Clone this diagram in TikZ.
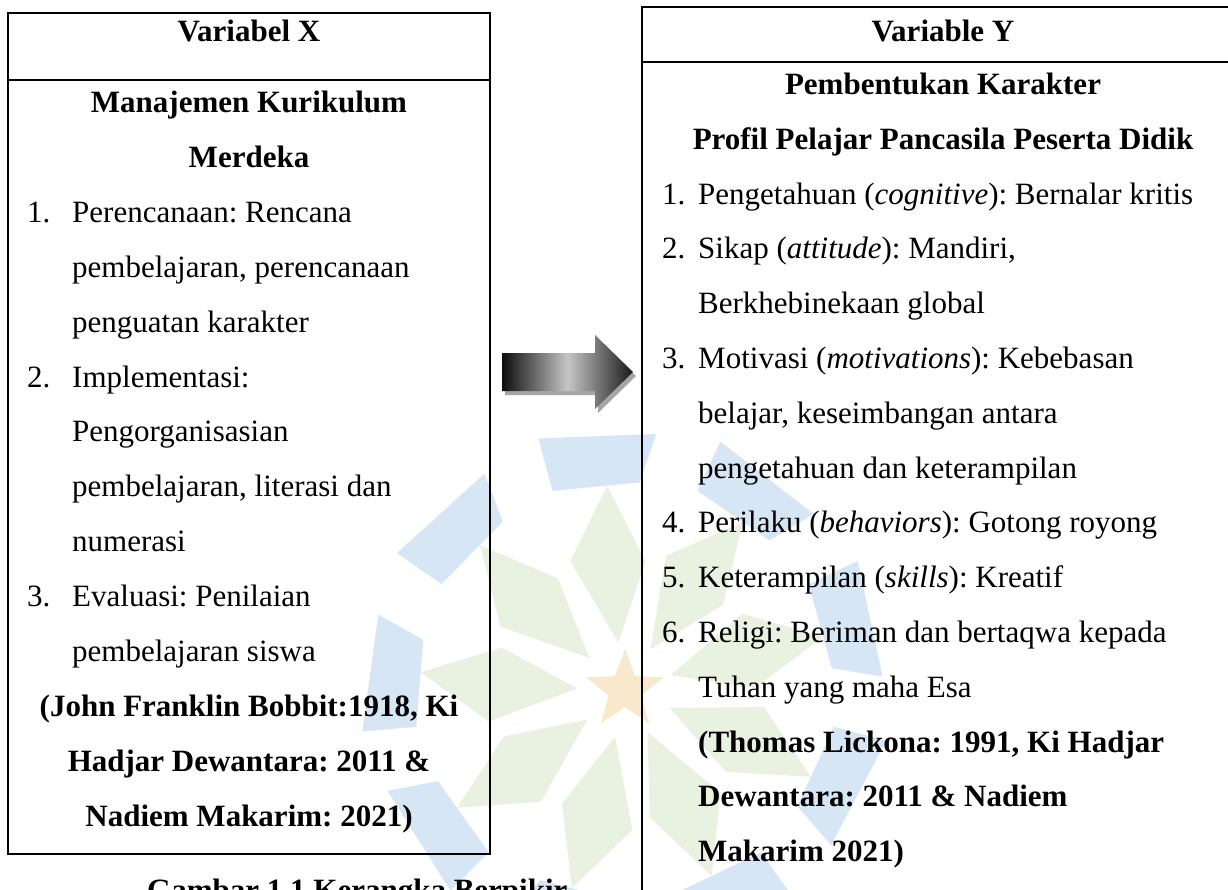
\documentclass[tikz,border=0pt]{standalone}
\usepackage{fontspec}
\setmainfont{Liberation Serif}
\frenchspacing
\usetikzlibrary{calc,shapes.geometric}
\definecolor{wmblue}{RGB}{214,230,245}
\definecolor{wmgreen}{RGB}{233,241,224}
\definecolor{wmstar}{RGB}{248,233,205}
\begin{document}
\begin{tikzpicture}[x=1pt,y=-1pt,
  tx/.style={inner sep=0pt, anchor=base west, font=\fontsize{31}{31}\selectfont},
  bx/.style={inner sep=0pt, anchor=base, font=\fontsize{31}{31}\selectfont\bfseries},
  bxl/.style={inner sep=0pt, anchor=base west, font=\fontsize{31}{31}\selectfont\bfseries},
  frame/.style={line width=1.6pt}]
\useasboundingbox (0,0) rectangle (1228,889);
\clip (0,0) rectangle (1228,889);
\fill[white] (0,0) rectangle (1228,889);

% watermark logo
\coordinate (wm) at (625,690);
\foreach \a in {-98,-58,...,222} {
  \fill[wmgreen] ($(wm)+(\a:48)$) -- ($(wm)+(\a-15:140)$) -- ($(wm)+(\a+3:205)$) -- ($(wm)+(\a+17:130)$) -- cycle;
  \fill[wmblue] ($(wm)+(\a-12:212)$) -- ($(wm)+(\a+12:208)$) -- ($(wm)+(\a+15:258)$) -- ($(wm)+(\a-11:266)$) -- cycle;
}
\node[star, star points=5, star point ratio=2.4, fill=wmstar, minimum size=82pt, inner sep=0pt] (wmstarnode) at (wm) {};

% boxes
\draw[frame] (8,13) rectangle (490,854);
\draw[frame] (8,80) -- (490,80);
\draw[frame] (642,7) rectangle (1244,900);
\draw[frame] (642,62) -- (1244,62);

% arrow
\fill[gray!70, shift={(3,4)}] (502,353) -- (595,353) -- (595,335) -- (633,372) -- (595,409) -- (595,391) -- (502,391) -- cycle;
\shade[left color=black!95, right color=black!90, middle color=gray!45] (502,353) -- (595,353) -- (595,335) -- (633,372) -- (595,409) -- (595,391) -- (502,391) -- cycle;

% left box text
\node[bx] (xh) at (249,41) {Variabel X};
\node[bx] (x0) at (249,112) {Manajemen Kurikulum};
\node[bx] (x1) at (249,167) {Merdeka};
\node[tx] (n1) at (27,222) {1.};
\node[tx] (x2) at (72,222) {Perencanaan: Rencana};
\node[tx] (x3) at (72,277) {pembelajaran, perencanaan};
\node[tx] (x4) at (72,332) {penguatan karakter};
\node[tx] (n2) at (27,387) {2.};
\node[tx] (x5) at (72,387) {Implementasi:};
\node[tx] (x6) at (72,441) {Pengorganisasian};
\node[tx] (x7) at (72,496) {pembelajaran, literasi dan};
\node[tx] (x8) at (72,551) {numerasi};
\node[tx] (n3) at (27,606) {3.};
\node[tx] (x9) at (72,606) {Evaluasi: Penilaian};
\node[tx] (x10) at (72,661) {pembelajaran siswa};
\node[bx] (x11) at (249,716) {(John Franklin Bobbit:1918, Ki};
\node[bx] (x12) at (249,771) {Hadjar Dewantara: 2011 \&};
\node[bx] (x13) at (249,826) {Nadiem Makarim: 2021)};
\node[bxl] (cap) at (147,900) {Gambar 1.1 Kerangka Berpikir};

% right box text
\node[bx] (yh) at (943,41) {Variable Y};
\node[bx] (y0) at (943,94) {Pembentukan Karakter};
\node[bx] (y1) at (943,149) {Profil Pelajar Pancasila Peserta Didik};
\node[tx] (m1) at (662,204) {1.};
\node[tx] (y2) at (698,204) {Pengetahuan (\textit{cognitive}): Bernalar kritis};
\node[tx] (m2) at (662,258) {2.};
\node[tx] (y3) at (698,258) {Sikap (\textit{attitude}): Mandiri,};
\node[tx] (y4) at (698,313) {Berkhebinekaan global};
\node[tx] (m3) at (662,368) {3.};
\node[tx] (y5) at (698,368) {Motivasi (\textit{motivations}): Kebebasan};
\node[tx] (y6) at (698,423) {belajar, keseimbangan antara};
\node[tx] (y7) at (698,478) {pengetahuan dan keterampilan};
\node[tx] (m4) at (662,532) {4.};
\node[tx] (y8) at (698,532) {Perilaku (\textit{behaviors}): Gotong royong};
\node[tx] (m5) at (662,587) {5.};
\node[tx] (y9) at (698,587) {Keterampilan (\textit{skills}): Kreatif};
\node[tx] (m6) at (662,642) {6.};
\node[tx] (y10) at (698,642) {Religi: Beriman dan bertaqwa kepada};
\node[tx] (y11) at (698,697) {Tuhan yang maha Esa};
\node[bxl] (y12) at (698,752) {(Thomas Lickona: 1991, Ki Hadjar};
\node[bxl] (y13) at (698,806) {Dewantara: 2011 \& Nadiem};
\node[bxl] (y14) at (698,861) {Makarim 2021)};
\end{tikzpicture}
\end{document}
